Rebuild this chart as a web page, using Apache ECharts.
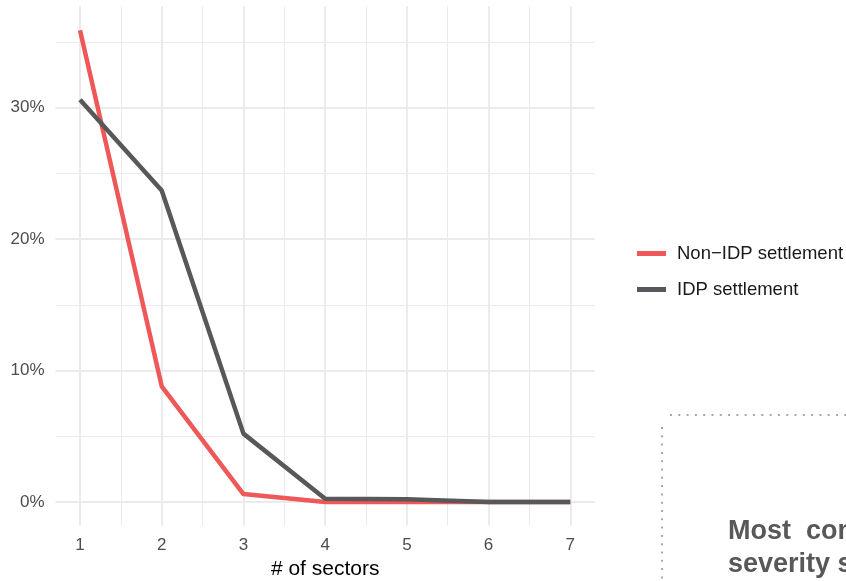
<!DOCTYPE html>
<html>
<head>
    <meta charset="utf-8">
    <style type="text/css">
        html,body { margin: 0px; padding: 0px; height: 100%; background: #ffffff; }
        #chart { width: 846px; height: 581px; }
    </style>
    <script src="https://cdn.jsdelivr.net/npm/echarts@6/dist/echarts.min.js"></script>
</head>
<body>
    <div id="chart"></div>
    <script type="text/javascript">
        // data (share of settlements, %)
        var sectors = [1, 2, 3, 4, 5, 6, 7];
        var nonIdp = [35.9, 8.8, 0.6, 0.0, 0.0, 0.0, 0.0];
        var idp = [30.6, 23.7, 5.2, 0.25, 0.2, 0.0, 0.0];
        var yTicks = [0, 10, 20, 30];
        var yMinor = [5, 15, 25, 35];
        var xMinor = [1.5, 2.5, 3.5, 4.5, 5.5, 6.5];
        var seriesNames = ['Non\u2212IDP settlement', 'IDP settlement'];

        var font = 'Liberation Sans, Arial, sans-serif';
        var chart = echarts.init(document.getElementById('chart'));

        function pairs(vals) {
            return sectors.map(function (s, i) { return [s, vals[i]]; });
        }
        function vLines(list) {
            return list.map(function (v) { return { xAxis: v }; });
        }
        function hLines(list) {
            return list.map(function (v) { return { yAxis: v }; });
        }
        // grid lines go through the axes as markLines, kept under the data lines
        function gridSeries(data, w) {
            return {
                type: 'line', data: [], silent: true, z: 1,
                markLine: {
                    silent: true, symbol: 'none', animation: false, z: 1,
                    label: { show: false },
                    lineStyle: { color: '#ebebeb', width: w, type: 'solid' },
                    emphasis: { disabled: true },
                    data: data
                }
            };
        }

        var option = {
            animation: false,
            grid: { left: 55.5, right: 251.2, top: 6.3, bottom: 55.4, outerBoundsMode: 'none' },
            legend: {
                data: seriesNames,
                orient: 'vertical',
                left: 632, top: 239,
                itemWidth: 29, itemHeight: 5, itemGap: 17,
                icon: 'rect',
                textStyle: { fontFamily: font, fontSize: 18.5, color: '#1a1a1a', padding: [0, 0, 0, 6] }
            },
            xAxis: {
                type: 'value', min: 0.7, max: 7.3,
                name: '# of sectors', nameLocation: 'middle', nameGap: 32,
                nameTextStyle: { fontFamily: font, fontSize: 21, color: '#000000' },
                axisLine: { show: false }, axisTick: { show: false },
                splitLine: { show: false },
                axisLabel: {
                    customValues: sectors, margin: 11,
                    fontFamily: font, fontSize: 17, color: '#4d4d4d'
                }
            },
            yAxis: {
                type: 'value', min: -1.8, max: 37.72,
                axisLine: { show: false }, axisTick: { show: false },
                splitLine: { show: false },
                axisLabel: {
                    customValues: yTicks, margin: 11,
                    fontFamily: font, fontSize: 17, color: '#4d4d4d',
                    formatter: function (v) { return v + '%'; }
                }
            },
            series: [
                gridSeries(vLines(xMinor).concat(hLines(yMinor)), 1),
                gridSeries(vLines(sectors).concat(hLines(yTicks)), 2),
                {
                    name: seriesNames[0], type: 'line', data: pairs(nonIdp),
                    showSymbol: false, symbol: 'none', z: 3,
                    color: '#ee5859',
                    lineStyle: { color: '#ee5859', width: 4.5, join: 'round' }
                },
                {
                    name: seriesNames[1], type: 'line', data: pairs(idp),
                    showSymbol: false, symbol: 'none', z: 4,
                    color: '#58585a',
                    lineStyle: { color: '#58585a', width: 4.5, join: 'round' }
                }
            ],
            graphic: [
                {
                    type: 'line', silent: true,
                    shape: { x1: 670, y1: 415, x2: 846, y2: 415 },
                    style: { stroke: '#a8a8a8', lineWidth: 2, lineDash: [2, 6.3] }
                },
                {
                    type: 'line', silent: true,
                    shape: { x1: 662, y1: 427, x2: 662, y2: 581 },
                    style: { stroke: '#a8a8a8', lineWidth: 2, lineDash: [2, 6.3] }
                },
                {
                    type: 'text', left: 728, top: 518, silent: true,
                    style: {
                        text: 'Most  com', fill: '#58585a',
                        font: 'bold 27px "Liberation Sans Narrow", "Liberation Sans", Arial, sans-serif'
                    }
                },
                {
                    type: 'text', left: 728, top: 551, silent: true,
                    style: {
                        text: 'severity s', fill: '#58585a',
                        font: 'bold 27px "Liberation Sans Narrow", "Liberation Sans", Arial, sans-serif'
                    }
                }
            ]
        };

        chart.setOption(option);
        window.onresize = chart.resize;
    </script>
</body>
</html>
